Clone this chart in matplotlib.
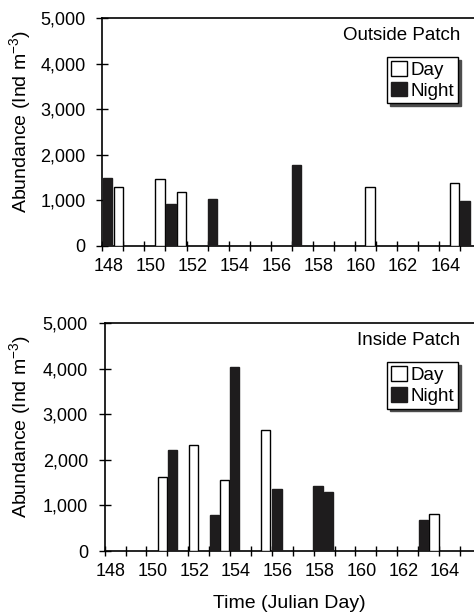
import matplotlib
matplotlib.use("Agg")
import matplotlib.pyplot as plt
from matplotlib.ticker import FuncFormatter, MultipleLocator
from matplotlib.transforms import ScaledTranslation
from matplotlib.patches import Patch

plt.rcParams['font.family'] = ['Liberation Sans', 'DejaVu Sans']
plt.rcParams['mathtext.fontset'] = 'custom'
plt.rcParams['mathtext.rm'] = 'Liberation Sans'
plt.rcParams['mathtext.it'] = 'Liberation Sans'

# Outside patch
out_day_t = [148.76, 150.74, 151.75, 160.71, 164.72]
out_day_v = [1300, 1470, 1190, 1290, 1375]
out_night_t = [148.25, 151.26, 153.24, 157.22, 165.22]
out_night_v = [1490, 915, 1025, 1780, 980]

# Inside patch
in_day_t = [150.75, 152.23, 153.73, 155.71, 163.76]
in_day_v = [1620, 2320, 1560, 2650, 805]
in_night_t = [151.24, 153.24, 154.21, 156.24, 158.21, 158.72, 163.25]
in_night_v = [2225, 790, 4050, 1370, 1435, 1290, 680]

panel_titles = ["Outside Patch", "Inside Patch"]
legend_labels = ["Day", "Night"]
yticks = [0, 1000, 2000, 3000, 4000, 5000]
xticks = list(range(148, 165, 2))

W, H = 474, 612
dpi = 100
fig = plt.figure(figsize=(W / dpi, H / dpi), dpi=dpi)

dark = '#1e1c1d'
fs = 13
fs2 = 13.5
fs3 = 14
bw = 0.44

def px(x0, y0, x1, y1):
    return [x0 / W, 1 - y1 / H, (x1 - x0) / W, (y1 - y0) / H]

axes_specs = [
    (px(102.3, 18, 474, 246), 148 + (474 - 102.3) / 21.06,
     out_day_t, out_day_v, out_night_t, out_night_v, panel_titles[0], False),
    (px(104.7, 323.3, 474, 551), 148 + (474 - 104.7) / 20.9,
     in_day_t, in_day_v, in_night_t, in_night_v, panel_titles[1], True),
]

for rect, xmax, dt, dv, nt, nv, title, xl in axes_specs:
    ax = fig.add_axes(rect)
    ax.bar(dt, dv, width=bw, color='white', edgecolor='black', linewidth=1.0, zorder=3)
    ax.bar(nt, nv, width=bw, color=dark, edgecolor=dark, linewidth=1.0, zorder=3)
    ax.set_xlim(148, xmax)
    ax.set_ylim(0, 5000)
    ax.set_yticks(yticks)
    ax.yaxis.set_major_formatter(FuncFormatter(lambda v, p: f"{int(v):,}"))
    ax.set_xticks(xticks)
    ax.xaxis.set_minor_locator(MultipleLocator(1))
    ax.tick_params(axis='x', which='both', direction='inout', length=7, width=1,
                   labelsize=fs, pad=5)
    ax.tick_params(axis='y', which='both', direction='inout', length=8, width=1,
                   labelsize=fs, pad=8)
    for lab in ax.get_xticklabels():
        lab.set_transform(lab.get_transform() + ScaledTranslation(6 / dpi, 0, fig.dpi_scale_trans))
    ax.spines['right'].set_visible(False)
    for s in ['left', 'top', 'bottom']:
        ax.spines[s].set_linewidth(1.2)
    ax.set_ylabel("Abundance (Ind m$^{-3}$)", fontsize=fs3)
    bb = ax.get_position()
    ax.yaxis.set_label_coords(((33) / W - bb.x0) / bb.width, 0.545)
    if xl:
        ax.set_xlabel("Time (Julian Day)", fontsize=fs3, labelpad=11)
    ytop = (1 - bb.y1) * H
    fig.text(460 / W, 1 - (ytop + 17) / H, title, ha='right', va='center', fontsize=fs2)
    handles = [Patch(facecolor='white', edgecolor='black', linewidth=1),
               Patch(facecolor=dark, edgecolor=dark, linewidth=1)]
    leg = ax.legend(handles, legend_labels, loc='upper right',
                    bbox_to_anchor=(458 / W, 1 - (ytop + 39) / H),
                    bbox_transform=fig.transFigure, fontsize=fs2,
                    handlelength=0.85, handleheight=0.85, handletextpad=0.2,
                    borderpad=0.2, borderaxespad=0, labelspacing=0.15,
                    fancybox=False, shadow={'color': '0.3', 'alpha': 1.0}, frameon=True)
    leg.get_frame().set_edgecolor('black')
    leg.get_frame().set_linewidth(1.0)

fig.savefig("out.png", dpi=dpi)
